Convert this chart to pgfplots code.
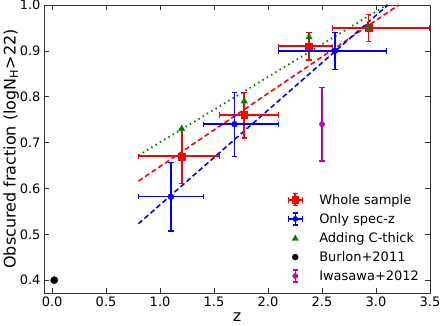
\documentclass[border=0pt]{standalone}
\usepackage{fontspec}
\setmainfont{DejaVu Sans}
\usepackage{pgfplots}
\pgfplotsset{compat=1.18}
\definecolor{mpred}{rgb}{1,0,0}
\definecolor{mpblue}{rgb}{0,0,1}
\definecolor{mpgreen}{rgb}{0,0.5,0}
\definecolor{mpmag}{rgb}{0.75,0,0.75}

\begin{document}
\begin{tikzpicture}[font=\fontsize{13}{15}\selectfont]
\begin{axis}[
  name=ax,
  scale only axis,
  width=386pt, height=288pt,
  xmin=-0.075, xmax=3.5,
  ymin=0.372, ymax=1.0,
  xtick={0,0.5,1,1.5,2,2.5,3,3.5},
  ytick={0.4,0.5,0.6,0.7,0.8,0.9,1.0},
  /pgf/number format/fixed,
  /pgf/number format/fixed zerofill,
  /pgf/number format/precision=1,
  /pgf/number format/assume math mode=true,
  tick align=inside,
  major tick length=5pt,
  axis line style={line width=0.8pt, black!80},
  tick style={line width=0.6pt, black!80},
  xlabel={z},
  ylabel={Obscured fraction ($\log$N\textsubscript{H}>22)},
  label style={font=\fontsize{16}{19}\selectfont},
  ylabel shift=-6pt,
  legend cell align=left,
  legend style={draw=none, fill=none, at={(0.985,0.025)}, anchor=south east,
    row sep=3.7pt, font=\fontsize{13}{15}\selectfont},
]
% fits
\addplot[forget plot, mpred, line width=1.6pt, dash pattern=on 5pt off 3pt] coordinates {(0.8,0.616) (3.21,1.0)};
\addplot[forget plot, mpblue, line width=1.6pt, dash pattern=on 5pt off 3pt] coordinates {(0.8,0.523) (3.11,1.0)};
\addplot[forget plot, mpgreen, line width=1.8pt, dash pattern=on 1.5pt off 3.5pt] coordinates {(0.8,0.672) (3.10,1.0)};

% whole sample
\addplot[only marks, color=mpred, mark=square*, mark size=3.4pt,
  legend image code/.code={
    \path[draw=none, fill=none] (0pt,-7pt) rectangle (31pt,7pt);
    \draw[mpred, line width=1.8pt] (2pt,0)--(16pt,0) (9pt,-6pt)--(9pt,6pt);
    \draw[mpred, line width=1.2pt] (2pt,-2.7pt)--(2pt,2.7pt) (16pt,-2.7pt)--(16pt,2.7pt)
      (6.3pt,6pt)--(11.7pt,6pt) (6.3pt,-6pt)--(11.7pt,-6pt);
    \fill[mpred] (5.6pt,-3.4pt) rectangle (12.4pt,3.4pt);
  },
  error bars/.cd, x dir=both, x explicit, y dir=both, y explicit,
  error bar style={draw=mpred, line width=1.8pt},
  error mark options={rotate=90, draw=mpred, mark size=2.7pt, line width=1.2pt},
] coordinates {
  (1.20,0.67) += (0.35,0.06) -= (0.40,0.06)
  (1.78,0.76) += (0.32,0.05) -= (0.23,0.05)
  (2.38,0.91) += (0.22,0.03) -= (0.28,0.03)
  (2.93,0.95) += (0.57,0.03) -= (0.33,0.03)
};
\addlegendentry{Whole sample}

% only spec-z
\addplot[only marks, color=mpblue, mark=*, mark size=3pt,
  legend image code/.code={
    \path[draw=none, fill=none] (0pt,-7pt) rectangle (31pt,7pt);
    \draw[mpblue, line width=1.5pt] (2pt,0)--(16pt,0) (9pt,-6pt)--(9pt,6pt);
    \draw[mpblue, line width=1.2pt] (2pt,-2.7pt)--(2pt,2.7pt) (16pt,-2.7pt)--(16pt,2.7pt)
      (6.3pt,6pt)--(11.7pt,6pt) (6.3pt,-6pt)--(11.7pt,-6pt);
    \fill[mpblue] (9pt,0) circle (2.6pt);
  },
  error bars/.cd, x dir=both, x explicit, y dir=both, y explicit,
  error bar style={draw=mpblue, line width=1.6pt},
  error mark options={rotate=90, draw=mpblue, mark size=2.7pt, line width=1.2pt},
] coordinates {
  (1.10,0.582) += (0.30,0.075) -= (0.30,0.075)
  (1.69,0.74) += (0.41,0.07) -= (0.29,0.07)
  (2.62,0.90) += (0.48,0.04) -= (0.52,0.04)
};
\addlegendentry{Only spec-z}

% adding C-thick
\addplot[only marks, mpgreen, mark=triangle*, mark size=3.7pt,
  legend image code/.code={
    \path[draw=none, fill=none] (0pt,-7pt) rectangle (31pt,7pt);
    \fill[mpgreen] (9pt,3pt) -- (5.8pt,-2.5pt) -- (12.2pt,-2.5pt) -- cycle;
  },
] coordinates {
  (1.20,0.73) (1.78,0.79) (2.38,0.93) (2.93,0.95)
};
\addlegendentry{Adding C-thick}

% Burlon+2011
\addplot[only marks, black, mark=*, mark size=3.6pt,
  legend image code/.code={
    \path[draw=none, fill=none] (0pt,-7pt) rectangle (31pt,7pt);
    \fill[black] (9pt,0) circle (3pt);
  },
] coordinates {(0.02,0.40)};
\addlegendentry{Burlon+2011}

% Iwasawa+2012
\addplot[only marks, mpmag, mark=*, mark size=2.7pt,
  legend image code/.code={
    \path[draw=none, fill=none] (0pt,-7pt) rectangle (31pt,7pt);
    \draw[mpmag, line width=1.5pt] (9pt,-6pt)--(9pt,6pt);
    \draw[mpmag, line width=1.2pt] (6.3pt,6pt)--(11.7pt,6pt) (6.3pt,-6pt)--(11.7pt,-6pt);
    \fill[mpmag] (9pt,0) circle (2.6pt);
  },
  error bars/.cd, y dir=both, y explicit,
  error bar style={draw=mpmag, line width=1.5pt},
  error mark options={rotate=90, draw=mpmag, mark size=2.7pt, line width=1.2pt},
] coordinates {(2.50,0.74) +- (0,0.08)};
\addlegendentry{Iwasawa+2012}
\end{axis}
\pgfresetboundingbox
\path ([xshift=-44pt,yshift=-33pt]ax.south west) rectangle ([xshift=10pt,yshift=5pt]ax.north east);
\end{tikzpicture}
\end{document}
